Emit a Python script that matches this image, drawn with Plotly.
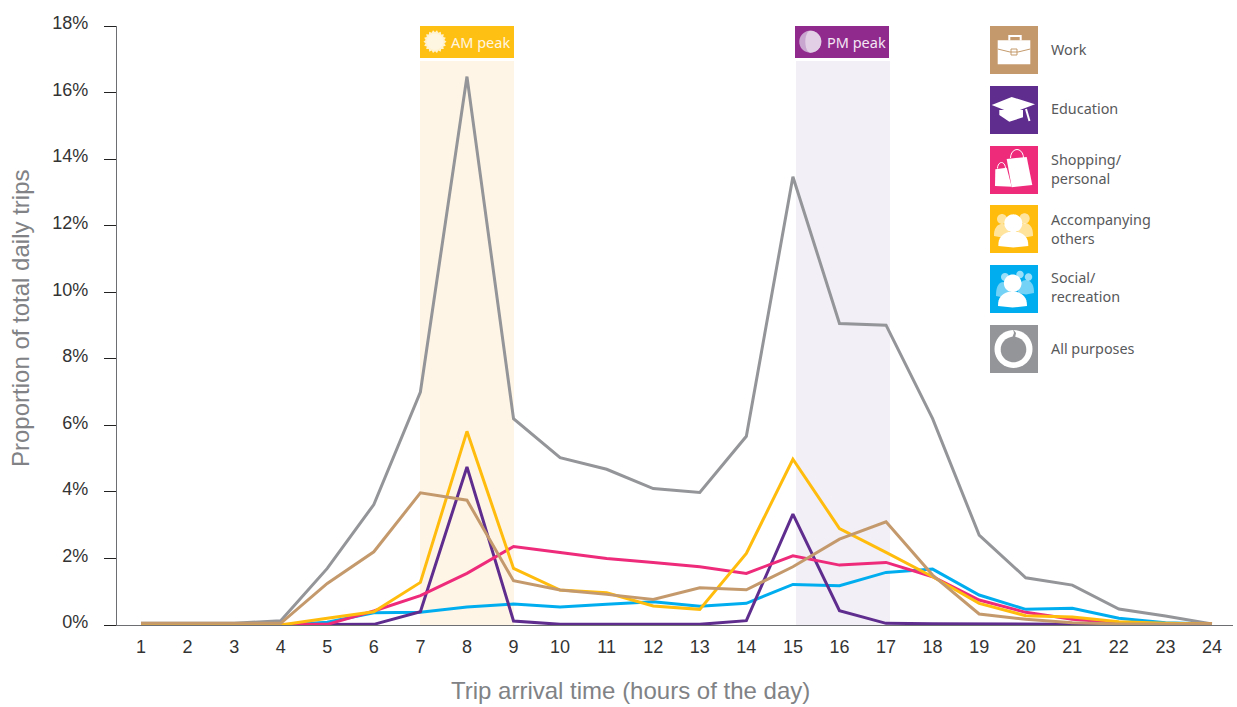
import math
import plotly.graph_objects as go

# Hour of the day on which each trip arrives
hours = list(range(1, 25))

# Share of total daily trips (%) by trip purpose
all_purposes = [0.05, 0.05, 0.05, 0.13, 1.70, 3.62, 7.00, 16.48, 6.20, 5.03, 4.68, 4.10,
                3.98, 5.67, 13.47, 9.06, 9.01, 6.20, 2.70, 1.42, 1.20, 0.48, 0.27, 0.03]
social = [0.0, 0.0, 0.0, 0.0, 0.08, 0.37, 0.38, 0.54, 0.63, 0.54, 0.62, 0.70,
          0.56, 0.65, 1.22, 1.18, 1.58, 1.68, 0.90, 0.47, 0.50, 0.20, 0.07, 0.03]
education = [0.0, 0.0, 0.0, 0.0, 0.02, 0.02, 0.40, 4.75, 0.12, 0.02, 0.02, 0.02,
             0.02, 0.13, 3.33, 0.43, 0.05, 0.04, 0.03, 0.02, 0.01, 0.0, 0.0, 0.0]
shopping = [0.0, 0.0, 0.0, 0.0, 0.02, 0.42, 0.88, 1.55, 2.36, 2.18, 2.00, 1.88,
            1.75, 1.55, 2.08, 1.80, 1.88, 1.45, 0.75, 0.38, 0.17, 0.07, 0.03, 0.03]
accompanying = [0.0, 0.0, 0.0, 0.0, 0.20, 0.40, 1.28, 5.82, 1.70, 1.05, 0.97, 0.57,
                0.47, 2.15, 4.98, 2.90, 2.18, 1.45, 0.65, 0.28, 0.24, 0.10, 0.05, 0.03]
work = [0.05, 0.05, 0.05, 0.05, 1.25, 2.20, 3.97, 3.75, 1.33, 1.05, 0.92, 0.77,
        1.12, 1.06, 1.75, 2.58, 3.10, 1.50, 0.33, 0.17, 0.07, 0.03, 0.03, 0.03]

y_ticks = [0, 2, 4, 6, 8, 10, 12, 14, 16, 18]
y_tick_labels = [f"{v}%" for v in y_ticks]

GREY, TAN, PURPLE, PINK, GOLD, BLUE = "#939598", "#c49a6c", "#5f2d8e", "#ee2a7b", "#ffbc0d", "#00aeef"
W, H = 1237, 707
L, R, T, B = 117, 1233, 26, 625


def px(x, y):
    """Page pixels to paper coordinates."""
    return (x - L) / (R - L), (B - y) / (B - T)


def path(points, close=True):
    parts = []
    for i, (x, y) in enumerate(points):
        a, b = px(x, y)
        parts.append(f"{'M' if i == 0 else 'L'}{a:.5f},{b:.5f}")
    return " ".join(parts) + (" Z" if close else "")


shapes = []


def poly(points, fill="white", opacity=1.0, line=None, width=0, close=True):
    shapes.append(dict(type="path", xref="paper", yref="paper", path=path(points, close),
                       fillcolor=fill if close else "rgba(0,0,0,0)", opacity=opacity,
                       line=dict(color=line or "rgba(0,0,0,0)", width=width)))


def rect(x0, y0, x1, y1, fill="white", opacity=1.0):
    poly([(x0, y0), (x1, y0), (x1, y1), (x0, y1)], fill, opacity)


def circle(cx, cy, r, fill="white", opacity=1.0):
    poly([(cx + r * math.cos(t * math.pi / 24), cy + r * math.sin(t * math.pi / 24)) for t in range(48)],
         fill, opacity)


def dome(x0, x1, top, bottom, fill="white", opacity=1.0):
    # Shoulders of a person figure
    cx, rx = (x0 + x1) / 2, (x1 - x0) / 2
    pts = [(cx + rx * math.cos(math.pi * t / 20), bottom - (bottom - top) * math.sin(math.pi * t / 20) ** 0.8)
           for t in range(21)]
    pts.append((cx, bottom + 1.5))
    poly(pts, fill, opacity)


def briefcase(x, y):
    poly([(x + 19.3, y + 14.5), (x + 19.3, y + 10), (x + 30.7, y + 10), (x + 30.7, y + 14.5)],
         close=False, line="white", width=2)
    rect(x + 7.7, y + 14.3, x + 40.3, y + 38.3)
    poly([(x + 7.7, y + 23), (x + 20, y + 26), (x + 28, y + 26), (x + 40.3, y + 23)],
         close=False, line=TAN, width=1)
    poly([(x + 21, y + 23), (x + 27, y + 23), (x + 27, y + 29), (x + 21, y + 29), (x + 21, y + 23)],
         close=False, line=TAN, width=1)


def cap(x, y):
    poly([(x + 9.3, y + 24), (x + 9.3, y + 29), (x + 19.3, y + 35.7), (x + 33, y + 31.3), (x + 33, y + 24)])
    poly([(x + 1.7, y + 19), (x + 21.7, y + 11), (x + 45, y + 18.3), (x + 21.7, y + 27)])
    poly([(x + 36, y + 23), (x + 39.5, y + 35)], close=False, line="white", width=2)


def bags(x, y):
    poly([(x + 16.7, y + 13), (x + 36.7, y + 11), (x + 42.3, y + 39), (x + 21.7, y + 41.3)])
    arc = [(x + 27 + 6.5 * math.cos(math.pi * t / 10), y + 12 - 8.5 * math.sin(math.pi * t / 10)) for t in range(11)]
    poly(arc, close=False, line="white", width=1)
    small = [(x + 11.5 + 4 * math.cos(math.pi * t / 10), y + 22.5 - 6 * math.sin(math.pi * t / 10)) for t in range(11)]
    poly(small, close=False, line="white", width=1)
    poly([(x + 5.3, y + 23.3), (x + 16.7, y + 21.7), (x + 21.7, y + 40.7), (x + 5, y + 40)])


def group(x, y):
    circle(x + 12, y + 14, 5, opacity=0.6)
    circle(x + 34.5, y + 13.5, 5.2, opacity=0.6)
    dome(x + 4, x + 20, y + 19, y + 31, opacity=0.6)
    dome(x + 27, x + 43, y + 18, y + 31, opacity=0.6)
    circle(x + 23.3, y + 18.3, 9)
    dome(x + 8.3, x + 38.3, y + 26.5, y + 41)


def crowd(x, y):
    for cx, cy, r in [(30, y + 9.5, 3.7), (38.5, y + 12, 3.7), (15, y + 12, 4)]:
        circle(x + cx, cy, r, opacity=0.6)
    dome(x + 6, x + 20, y + 17, y + 31, opacity=0.45)
    dome(x + 28, x + 44, y + 15, y + 28, opacity=0.45)
    circle(x + 22.7, y + 18.3, 8.8)
    dome(x + 8, x + 37, y + 26.5, y + 41)


def ring(x, y):
    circle(x + 23.5, y + 24, 19)
    circle(x + 23.5, y + 24.5, 12.8, GREY)
    poly([(x + 23, y + 4), (x + 26, y + 8), (x + 25, y + 13), (x + 22, y + 13), (x + 24, y + 8)], GREY)


# Peak-hour bands and their headers
shapes.append(dict(type="rect", layer="below", xref="paper", yref="paper",
                   x0=px(420, 0)[0], x1=px(514, 0)[0], y0=0, y1=px(0, 61)[1],
                   fillcolor="#fff5e6", line_width=0))
shapes.append(dict(type="rect", layer="below", xref="paper", yref="paper",
                   x0=px(796, 0)[0], x1=px(890, 0)[0], y0=0, y1=px(0, 61)[1],
                   fillcolor="#f2eff6", line_width=0))
rect(420, 26, 514, 58, "#ffc014")
rect(795, 26, 889, 58, "#912a8d")

# Sun badge
sun_cx, sun_cy = 435, 41.7
poly([(sun_cx + (11.5 if t % 2 == 0 else 9.5) * math.cos(t * math.pi / 18),
       sun_cy + (11.5 if t % 2 == 0 else 9.5) * math.sin(t * math.pi / 18)) for t in range(36)], "#fff2d0")
circle(sun_cx, sun_cy, 8, "#fff6e2")

# Moon badge
circle(810.3, 41.7, 11, "#c9a6d0")
poly([(810.3 + 11 * math.cos(a * math.pi / 12 - math.pi / 2), 41.7 + 11 * math.sin(a * math.pi / 12 - math.pi / 2))
      for a in range(13)] +
     [(810.3 + 5 * math.cos(a * math.pi / 12 + math.pi / 2), 41.7 + 11 * math.sin(a * math.pi / 12 + math.pi / 2))
      for a in range(13)], "#e2cfe5")

# Purpose key
key = [("Work", TAN, 26, briefcase, 50),
       ("Education", "#5f2d8e", 86, cap, 108.5),
       ("Shopping/<br>personal", PINK, 146, bags, 169),
       ("Accompanying<br>others", "#ffbc0d", 205, group, 228.5),
       ("Social/<br>recreation", BLUE, 265, crowd, 287),
       ("All purposes", GREY, 325, ring, 348.5)]
annotations = []


def label(x, y, text, size, color, anchor="left"):
    a, b = px(x, y)
    annotations.append(dict(x=a, y=b, xref="paper", yref="paper", text=text, showarrow=False,
                            xanchor=anchor, yanchor="middle", align="left",
                            font=dict(family="Noto Sans", size=size, color=color)))


for name, colour, top, icon, centre in key:
    rect(990, top, 1038, top + 48, colour)
    icon(990, top)
    label(1049, centre, name, 14.4, "#58595b")

label(449, 42, "AM peak", 14.5, "#fff6e2")
label(825, 42, "PM peak", 14.5, "#f4e6f4")

# Axis titles sit off-centre, so they are placed as annotations
title_font = dict(family="Liberation Sans", size=24, color="#808285")
tx, ty = px(630, 690)
annotations.append(dict(x=tx, y=ty, xref="paper", yref="paper", showarrow=False, xanchor="center",
                        yanchor="middle", text="Trip arrival time (hours of the day)", font=title_font))
tx, ty = px(20.5, 318.5)
annotations.append(dict(x=tx, y=ty, xref="paper", yref="paper", showarrow=False, xanchor="center",
                        yanchor="middle", textangle=-90, text="Proportion of total daily trips", font=title_font))

fig = go.Figure()
for name, values, colour in [("All purposes", all_purposes, GREY),
                             ("Social/recreation", social, BLUE),
                             ("Education", education, PURPLE),
                             ("Shopping/personal", shopping, PINK),
                             ("Accompanying others", accompanying, GOLD),
                             ("Work", work, TAN)]:
    fig.add_trace(go.Scatter(x=hours, y=values, name=name, mode="lines",
                             line=dict(color=colour, width=3), showlegend=False))

x_lo = 1 + (L - 141) / ((1212 - 141) / 23)
x_hi = 1 + (R - 141) / ((1212 - 141) / 23)

fig.update_layout(
    width=W, height=H, autosize=False,
    margin=dict(l=L, r=W - R, t=T, b=H - B, pad=0),
    paper_bgcolor="white", plot_bgcolor="white",
    shapes=shapes, annotations=annotations,
    font=dict(family="Liberation Sans"),
    xaxis=dict(range=[x_lo, x_hi], tickmode="array", tickvals=hours, ticks="",
               showgrid=False, zeroline=False, showline=True, linecolor="#6d6e71", linewidth=1.3,
               tickfont=dict(size=18, color="#333333"), ticklabelstandoff=5),
    yaxis=dict(range=[0, 18], tickmode="array", tickvals=y_ticks, ticktext=y_tick_labels,
               ticks="outside", ticklen=12, tickcolor="#222222", tickwidth=1.2,
               showgrid=False, zeroline=False, showline=True, linecolor="#6d6e71", linewidth=1.3,
               tickfont=dict(size=18, color="#333333"), ticklabelstandoff=12, ticklabelshift=-3),
)

fig.write_html("out.html", config=dict(displayModeBar=False))
